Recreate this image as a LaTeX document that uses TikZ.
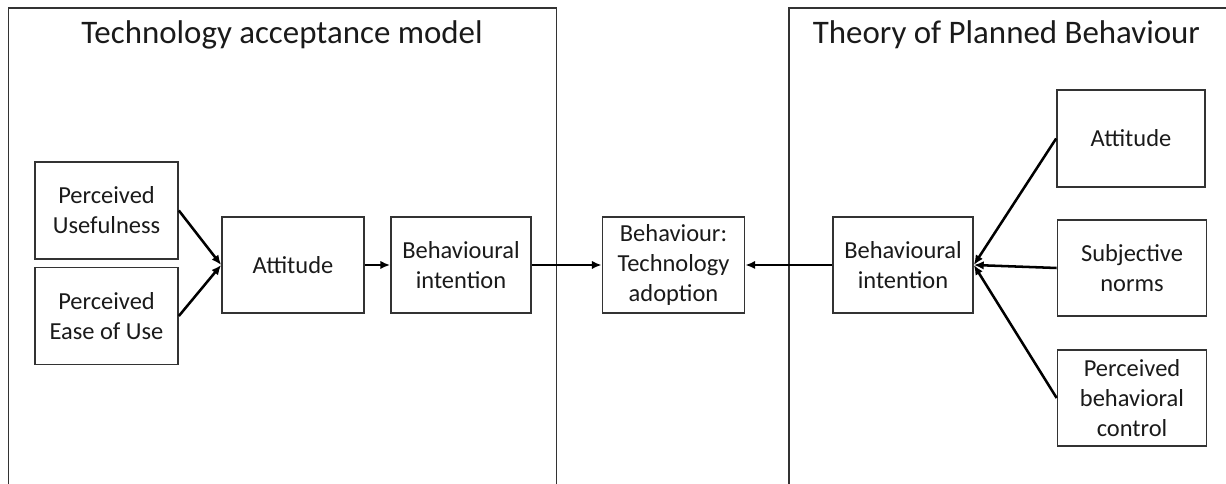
\documentclass[tikz,border=0pt]{standalone}
\usepackage{fontspec}
\setmainfont{Carlito}
\usetikzlibrary{arrows.meta}
\definecolor{linegray}{HTML}{333333}
\definecolor{textgray}{HTML}{1A1A1A}
\tikzset{
  box/.style={rectangle,draw=linegray,line width=1.2pt,minimum width=3.55cm,minimum height=2.4cm,
    align=center,inner sep=0pt,text=textgray,font=\fontsize{17.4}{21.3}\selectfont},
  link/.style={-{Latex[length=7pt,width=6pt]},line width=1.8pt},
  frame/.style={draw=linegray,line width=1.4pt},
  heading/.style={anchor=base,text=textgray,font=\fontsize{23.4}{28}\selectfont}
}
\begin{document}
\begin{tikzpicture}
    \useasboundingbox (0,0) rectangle (30.65,12.1);

    % Technology acceptance model
    \draw[frame] (0.2125,0) -- (0.2125,11.9) -- (13.9125,11.9) -- (13.9125,0);
    \node[heading] (tamtitle) at (7.05,11.0) {Technology acceptance model};
    \node[box,minimum width=3.575cm,minimum height=2.425cm] (usefulness) at (2.6625,6.8375) {Perceived\\Usefulness};
    \node[box,minimum width=3.575cm,minimum height=2.425cm] (easeofuse) at (2.6625,4.2) {Perceived\\Ease of Use};
    \node[box] (tamattitude) at (7.325,5.475) {Attitude};
    \node[box,minimum width=3.5cm] (tamintention) at (11.525,5.475) {Behavioural\\intention};

    % Behaviour in the middle
    \node[box] (adoption) at (16.8375,5.475) {Behaviour:\\Technology\\adoption};

    % Theory of Planned Behaviour
    \draw[frame] (19.725,0) -- (19.725,11.9) -- (30.65,11.9);
    \node[heading] (tpbtitle) at (25.16,11.0) {Theory of Planned Behaviour};
    \node[box,minimum width=3.5cm] (tpbintention) at (22.575,5.475) {Behavioural\\intention};
    \node[box,minimum width=3.7cm,minimum height=2.425cm] (tpbattitude) at (28.275,8.6375) {Attitude};
    \node[box,minimum width=3.725cm] (norms) at (28.3,5.4) {Subjective\\norms};
    \node[box,minimum width=3.725cm] (control) at (28.3,2.15) {Perceived\\behavioral\\control};

    % Connections
    \draw[link] (usefulness.east) -- (tamattitude.west);
    \draw[link] (easeofuse.east) -- (tamattitude.west);
    \draw[link] (tamattitude.east) -- (tamintention.west);
    \draw[link] (tamintention.east) -- (adoption.west);
    \draw[link] (tpbintention.west) -- (adoption.east);
    \draw[link] (tpbattitude.west) -- (tpbintention.east);
    \draw[link] (norms.west) -- (tpbintention.east);
    \draw[link] (control.west) -- (tpbintention.east);
\end{tikzpicture}
\end{document}
